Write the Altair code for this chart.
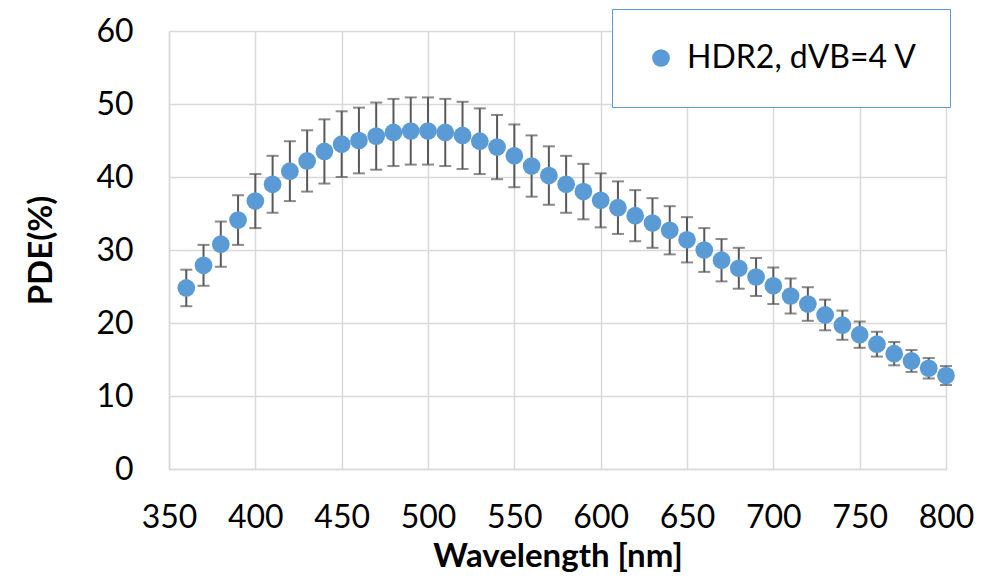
import altair as alt
import pandas as pd

wavelength = [360, 370, 380, 390, 400, 410, 420, 430, 440, 450,
              460, 470, 480, 490, 500, 510, 520, 530, 540, 550,
              560, 570, 580, 590, 600, 610, 620, 630, 640, 650,
              660, 670, 680, 690, 700, 710, 720, 730, 740, 750,
              760, 770, 780, 790, 800]
pde = [24.8, 27.9, 30.8, 34.1, 36.7, 39.0, 40.8, 42.2, 43.5, 44.5,
       45.0, 45.6, 46.1, 46.3, 46.3, 46.1, 45.7, 44.9, 44.1, 42.9,
       41.5, 40.2, 39.0, 38.0, 36.8, 35.8, 34.7, 33.7, 32.7, 31.4,
       30.0, 28.6, 27.5, 26.3, 25.1, 23.7, 22.6, 21.1, 19.7, 18.4,
       17.1, 15.8, 14.8, 13.8, 12.8]
err = [2.5, 2.8, 3.1, 3.4, 3.7, 3.9, 4.1, 4.2, 4.4, 4.5,
       4.5, 4.6, 4.6, 4.6, 4.6, 4.6, 4.6, 4.5, 4.4, 4.3,
       4.2, 4.0, 3.9, 3.8, 3.7, 3.6, 3.5, 3.4, 3.3, 3.1,
       3.0, 2.9, 2.8, 2.6, 2.5, 2.4, 2.3, 2.1, 2.0, 1.8,
       1.7, 1.6, 1.5, 1.4, 1.3]
series_name = "HDR2, dVB=4 V"
x_ticks = [350, 400, 450, 500, 550, 600, 650, 700, 750, 800]
y_ticks = [0, 10, 20, 30, 40, 50, 60]

df = pd.DataFrame({"wl": wavelength, "pde": pde, "err": err})
df["lo"] = df["pde"] - df["err"]
df["hi"] = df["pde"] + df["err"]
df["series"] = series_name

FONT = "Lato"
GRID = "#D9D9D9"
BLUE = "#5B9BD5"
ERRC = "#595959"

x_enc = alt.X("wl:Q", scale=alt.Scale(domain=[350, 800], nice=False, zero=False),
              axis=alt.Axis(values=x_ticks, title="Wavelength [nm]", grid=True,
                            tickSize=0, labelPadding=33, titlePadding=7,
                            labelFlush=False, labelOverlap=False, labelBound=False))
y_scale = alt.Scale(domain=[0, 60], nice=False)
y_axis = alt.Axis(values=y_ticks, title="PDE(%)", grid=True, tickSize=0,
                  labelPadding=36, titlePadding=37, labelFlush=False,
                  labelOverlap=False)

base = alt.Chart(df)

rules = base.mark_rule(color=ERRC, strokeWidth=2).encode(
    x=x_enc,
    y=alt.Y("lo:Q", scale=y_scale, axis=y_axis),
    y2="hi:Q",
)
cap_lo = base.mark_tick(color=ERRC, orient="horizontal", size=12, thickness=2).encode(
    x="wl:Q", y="lo:Q")
cap_hi = base.mark_tick(color=ERRC, orient="horizontal", size=12, thickness=2).encode(
    x="wl:Q", y="hi:Q")
points = base.mark_point(filled=True, size=314, opacity=1, shape="circle").encode(
    x="wl:Q",
    y="pde:Q",
    color=alt.Color("series:N", scale=alt.Scale(range=[BLUE]),
                    legend=alt.Legend(title=None, orient="none", legendX=443, legendY=-22,
                                      strokeColor=BLUE, padding=33, fillColor="white",
                                      symbolSize=314, symbolType="circle",
                                      symbolStrokeWidth=0, labelFontSize=32,
                                      labelFont=FONT, labelColor="black",
                                      labelOffset=10, labelLimit=0)),
)

chart = alt.layer(rules, cap_lo, cap_hi, points).properties(
    width=777, height=438,
    autosize=alt.AutoSizeParams(type="none"),
    padding={"left": 169, "top": 31, "right": 41, "bottom": 108},
    background="white",
).configure_view(strokeWidth=0).configure_axis(
    gridColor=GRID, gridWidth=1.5, domainColor=GRID, domainWidth=1.5,
    labelFont=FONT, labelFontSize=32, labelColor="black",
    titleFont=FONT, titleFontSize=33, titleFontWeight="bold", titleColor="black",
)

chart.save("out.html", embed_options={"renderer": "svg", "actions": False})
